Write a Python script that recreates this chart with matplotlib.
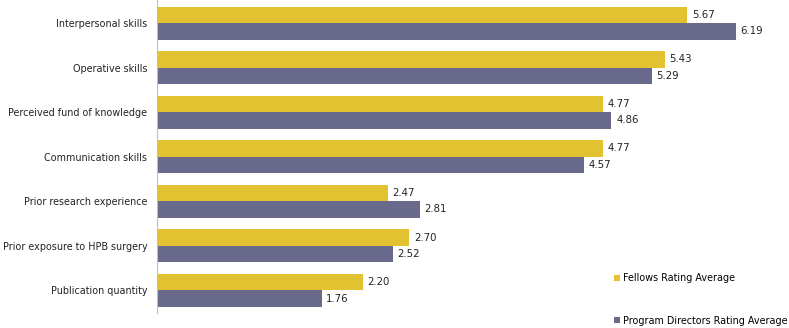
import matplotlib.pyplot as plt
import numpy as np

categorias = ["Interpersonal skills", "Operative skills", "Perceived fund of knowledge",
              "Communication skills", "Prior research experience",
              "Prior exposure to HPB surgery", "Publication quantity"]
fellows = [5.67, 5.43, 4.77, 4.77, 2.47, 2.70, 2.20]
diretores = [6.19, 5.29, 4.86, 4.57, 2.81, 2.52, 1.76]
series = ["Fellows Rating Average", "Program Directors Rating Average"]

cor_amarela = "#E3C232"
cor_roxa = "#696A8B"
fs = 6.9

fig = plt.figure(figsize=(7.89, 3.28), dpi=100)
ax = fig.add_axes([157 / 789, 15 / 328, 623 / 789, 313 / 328])

y = np.arange(len(categorias))
h = 0.37
b1 = ax.barh(y - h / 2, fellows, height=h, color=cor_amarela, label=series[0])
b2 = ax.barh(y + h / 2, diretores, height=h, color=cor_roxa, label=series[1])

for barras, valores in [(b1, fellows), (b2, diretores)]:
    for barra, v in zip(barras, valores):
        ax.text(v + 0.05, barra.get_y() + barra.get_height() / 2, f"{v:.2f}",
                va="center", ha="left", fontsize=fs + 0.4, color="#222222")

ax.set_yticks(y)
ax.set_yticklabels(categorias, fontsize=fs, color="#222222")
ax.tick_params(axis="y", length=0, pad=7)
ax.set_xticks([])
ax.set_xlim(0, 623 / 93.5)
ax.set_ylim(6.51, -0.52)

for lado in ["top", "right", "bottom"]:
    ax.spines[lado].set_visible(False)
ax.spines["left"].set_color("#BFBFBF")

ax.legend(loc="upper left", bbox_to_anchor=(453 / 623, 0.14), frameon=False,
          fontsize=fs, handlelength=0.6, handleheight=0.6, handletextpad=0.35,
          labelspacing=3.4, borderaxespad=0)

fig.savefig("out.png", dpi=100)
